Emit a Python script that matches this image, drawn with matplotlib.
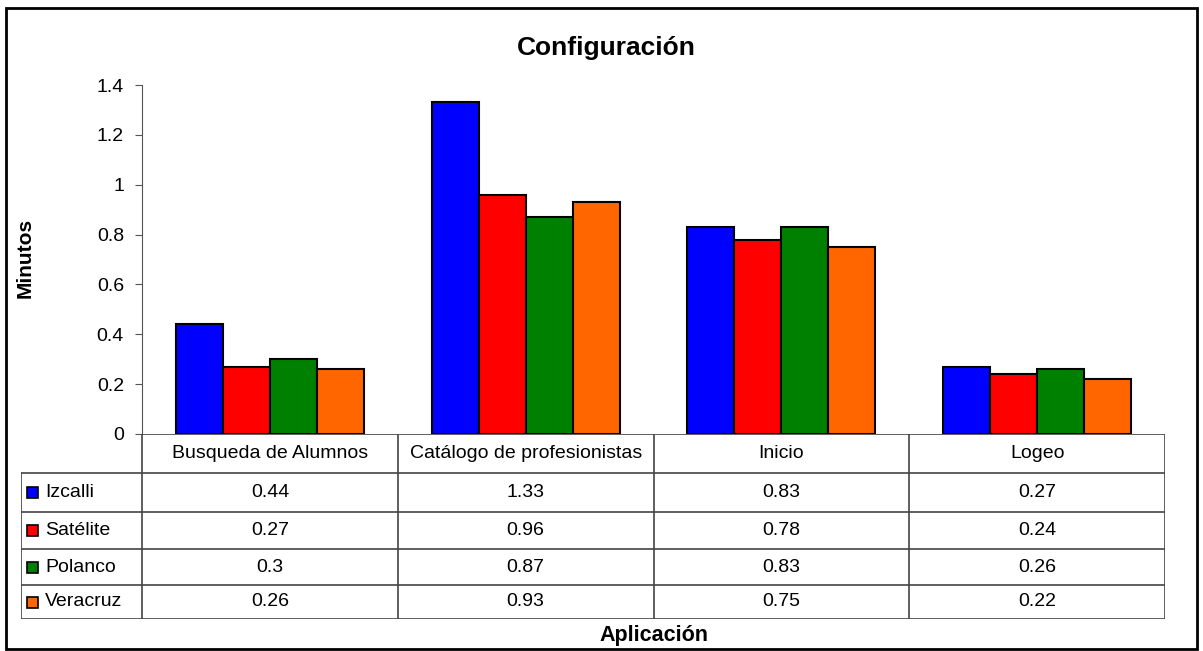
import matplotlib

matplotlib.use("Agg")
import matplotlib.pyplot as plt
from matplotlib.patches import Rectangle

plt.rcParams["font.family"] = ["Liberation Sans", "DejaVu Sans"]

# datos
categorias = ["Busqueda de Alumnos", "Catálogo de profesionistas", "Inicio", "Logeo"]
series = ["Izcalli", "Satélite", "Polanco", "Veracruz"]
izcalli = [0.44, 1.33, 0.83, 0.27]
satelite = [0.27, 0.96, 0.78, 0.24]
polanco = [0.30, 0.87, 0.83, 0.26]
veracruz = [0.26, 0.93, 0.75, 0.22]
valores = [izcalli, satelite, polanco, veracruz]
colores = ["#0000FF", "#FF0000", "#008000", "#FF6600"]
yticks = [0, 0.2, 0.4, 0.6, 0.8, 1, 1.2, 1.4]

W, H = 1203, 651
fig = plt.figure(figsize=(W / 100, H / 100), dpi=100)


def fx(px):
    return px / W


def fy(py):
    return 1 - py / H


# marco exterior
fig.patches.append(Rectangle((fx(6), fy(649)), fx(1197) - fx(6), fy(8) - fy(649),
                             transform=fig.transFigure, fill=False,
                             edgecolor="black", linewidth=2))

# area de graficas
x0, x1, y_top, y_base, y_bot = 142, 1165, 85, 434, 619
ax = fig.add_axes([fx(x0), fy(y_base), fx(x1) - fx(x0), fy(y_top) - fy(y_base)])
n = len(categorias)
ancho = 0.184
for j, (vals, col) in enumerate(zip(valores, colores)):
    xs = [i + 0.5 + (j - 1.5) * ancho for i in range(n)]
    ax.bar(xs, vals, width=ancho, color=col, edgecolor="black", linewidth=1.5, zorder=3)

ax.set_xlim(0, n)
ax.set_ylim(0, 1.4)
ax.set_yticks(yticks)
ax.set_yticklabels([f"{t:g}" for t in yticks], fontsize=14)
ax.set_xticks([])
for s in ["top", "right", "bottom"]:
    ax.spines[s].set_visible(False)
ax.spines["left"].set_color("#555555")
ax.tick_params(axis="y", length=5, color="#555555", pad=8)
ax.patch.set_alpha(0)

# tabla de datos
lab_w = (x0 - 21) / (x1 - x0) * n
tab = fig.add_axes([fx(21), fy(y_bot), fx(x1) - fx(21), fy(y_base) - fy(y_bot)])
tab.set_xlim(-lab_w, n)
filas = [434, 473, 512, 549, 585, 619]
tab.set_ylim(filas[-1], filas[0])
tab.axis("off")
gc = "#444444"
# lineas horizontales
tab.plot([0, n], [filas[0], filas[0]], color=gc, lw=1.2)
for yy in filas[1:]:
    tab.plot([-lab_w, n], [yy, yy], color=gc, lw=1.2)
# lineas verticales
tab.plot([-lab_w, -lab_w], [filas[1], filas[-1]], color=gc, lw=1.2)
for i in range(n + 1):
    tab.plot([i, i], [filas[0], filas[-1]], color=gc, lw=1.2)

for i, cat in enumerate(categorias):
    tab.text(i + 0.5, (filas[0] + filas[1]) / 2, cat, ha="center", va="center", fontsize=14)

sw = 11 / (x1 - x0) * n
for j, (nombre, vals, col) in enumerate(zip(series, valores, colores)):
    yc = (filas[j + 1] + filas[j + 2]) / 2
    tab.add_patch(Rectangle((-lab_w + 6 / (x1 - x0) * n, yc - 5.5), sw, 11,
                            facecolor=col, edgecolor="black", linewidth=1.2))
    tab.text(-lab_w + 24 / (x1 - x0) * n, yc, nombre, ha="left", va="center", fontsize=14)
    for i, v in enumerate(vals):
        tab.text(i + 0.5, yc, f"{v:g}", ha="center", va="center", fontsize=14)

# titulos
fig.text(fx(606), fy(48), "Configuración", ha="center", va="center",
         fontsize=19, fontweight="bold")
fig.text(fx(25), fy(258), "Minutos", ha="center", va="center", rotation=90,
         fontsize=15, fontweight="bold")
fig.text(fx((x0 + x1) / 2), fy(635), "Aplicación", ha="center", va="center",
         fontsize=15.5, fontweight="bold")

fig.savefig("out.png", dpi=100)
